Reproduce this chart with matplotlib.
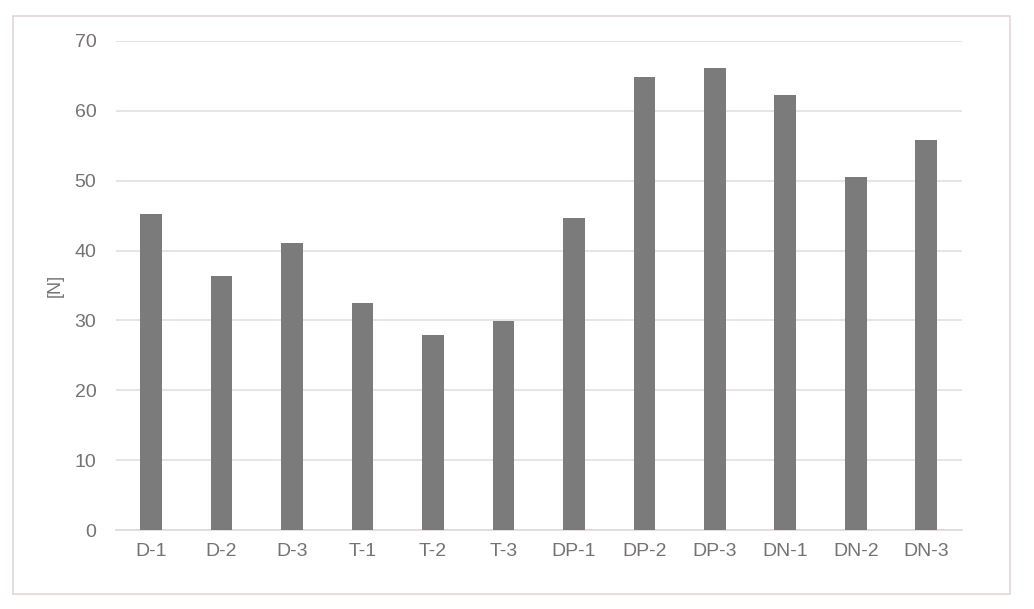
import matplotlib.pyplot as plt
from matplotlib.patches import Rectangle

plt.rcParams['font.family'] = ['Liberation Sans', 'DejaVu Sans']

categories = ['D-1', 'D-2', 'D-3', 'T-1', 'T-2', 'T-3',
              'DP-1', 'DP-2', 'DP-3', 'DN-1', 'DN-2', 'DN-3']
values = [45.2, 36.4, 41.1, 32.5, 27.9, 29.9,
          44.7, 64.8, 66.1, 62.3, 50.5, 55.8]
yticks = [0, 10, 20, 30, 40, 50, 60, 70]

fig = plt.figure(figsize=(10.34, 6.09), dpi=100)
ax = fig.add_axes([0.112, 0.1297, 0.818, 0.803])

# outer frame around the chart
fig.patches.append(Rectangle((0.013, 0.025), 0.964, 0.949, transform=fig.transFigure,
                             fill=False, edgecolor='#e4d6d6', linewidth=1.2))

x = range(len(categories))
ax.bar(x, values, width=0.31, color='#7b7b7b', zorder=3)

ax.set_xlim(-0.5, len(categories) - 0.5)
ax.set_ylim(0, 70)
ax.set_yticks(yticks)
ax.set_xticks(list(x))
ax.set_xticklabels(categories)
ax.grid(axis='y', color='#e6dede', linewidth=1.2, zorder=0)
ax.tick_params(axis='both', length=0, labelsize=14, labelcolor='#777272', pad=9)
ax.tick_params(axis='y', pad=14)
for s in ['top', 'right', 'left']:
    ax.spines[s].set_visible(False)
ax.spines['bottom'].set_color('#e0d8d8')
ax.spines['bottom'].set_linewidth(1.2)

ax.set_ylabel('[N]', fontsize=13, color='#777272', labelpad=8)

fig.savefig('out.png', dpi=100)
